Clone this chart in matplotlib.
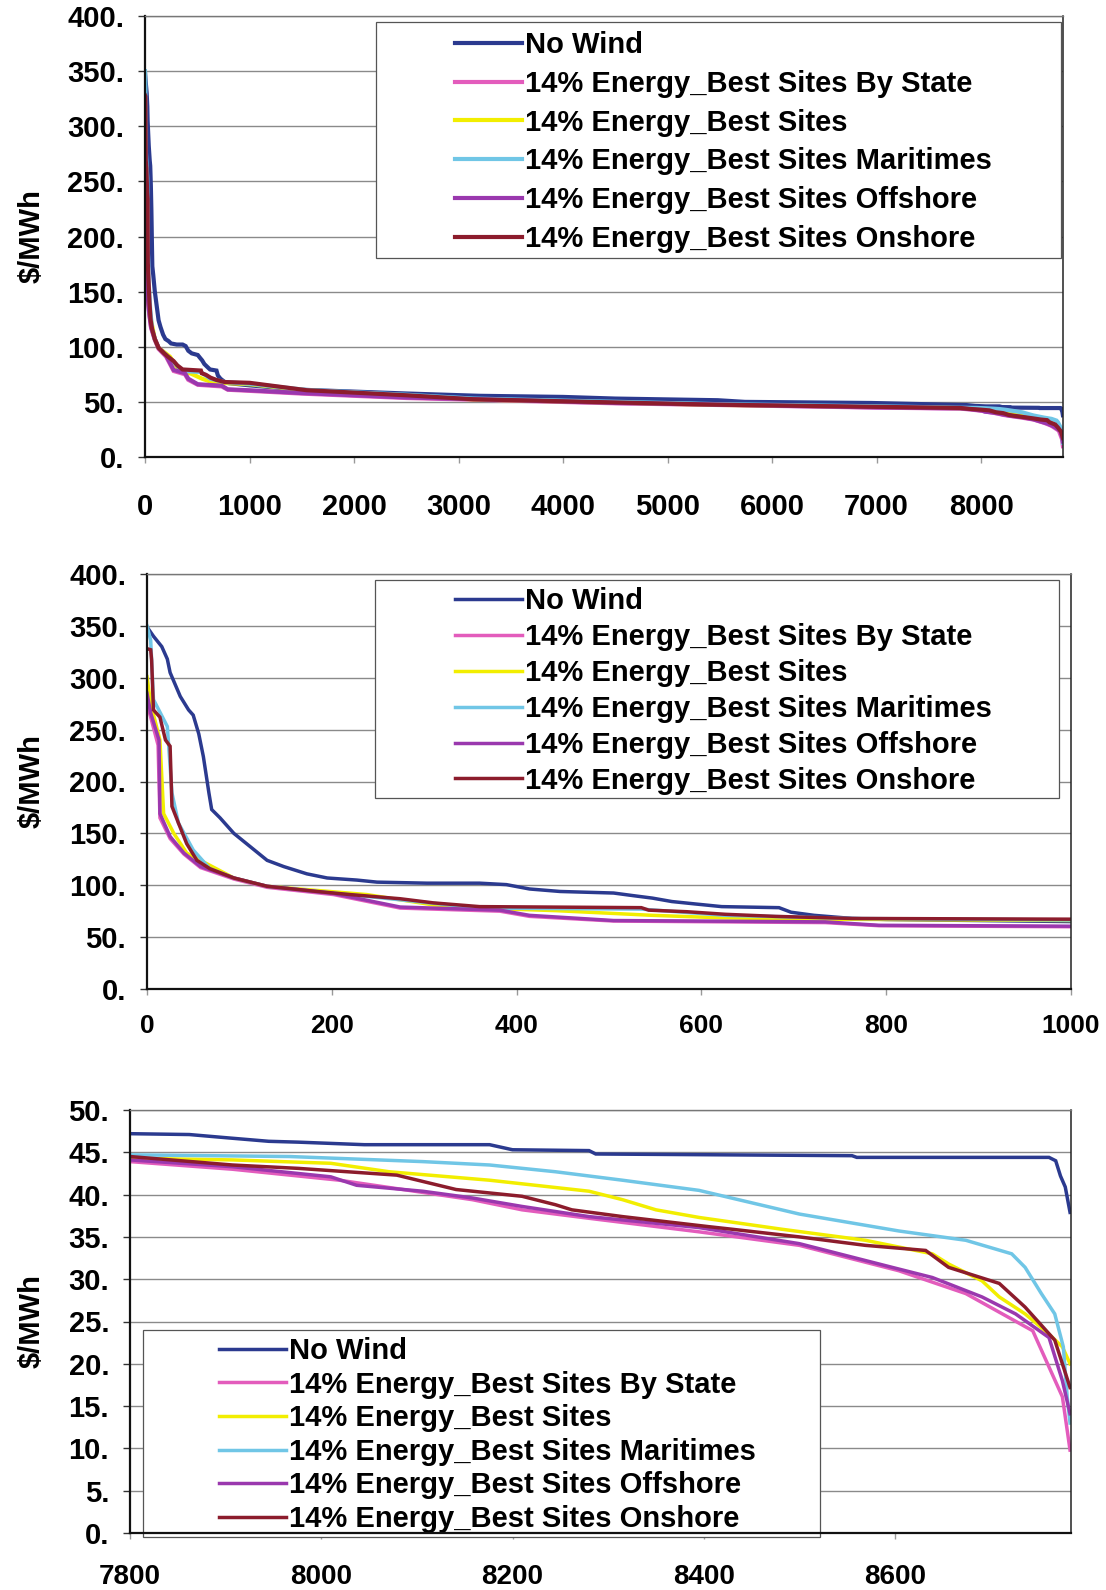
import matplotlib
matplotlib.use("Agg")
import matplotlib.pyplot as plt
from matplotlib.patches import Rectangle
from matplotlib.ticker import FuncFormatter, MultipleLocator

plt.rcParams['font.family'] = ['Liberation Sans', 'DejaVu Sans']
plt.rcParams['font.weight'] = 'bold'

# price duration curves, hour of year (sorted) vs price in $/MWh
labels = ["No Wind",
          "14% Energy_Best Sites By State",
          "14% Energy_Best Sites",
          "14% Energy_Best Sites Maritimes",
          "14% Energy_Best Sites Offshore",
          "14% Energy_Best Sites Onshore"]
colors = ["#2b3a8f", "#e35cbc", "#f2ee00", "#70c6e6", "#9a38ae", "#8c1c2c"]

hours_no_wind = [0, 7, 16, 22, 25, 36, 45, 50, 56, 61, 67, 70, 79, 94, 112, 130, 148, 173, 195,
                 227, 249, 303, 360, 389, 414, 447, 505, 526, 547, 568, 593, 622, 684, 697, 722,
                 763, 800, 1000, 1500, 2500, 3200, 4000, 4500, 5480, 5740, 6950, 7800, 7862,
                 7903, 7945, 7976, 8045, 8176, 8200, 8280, 8287, 8555, 8560, 8761, 8768, 8773,
                 8778, 8783]
price_no_wind = [349, 340, 330, 318, 305, 282, 269, 264, 246, 224, 189, 173, 165, 150, 137, 124,
                 118, 111, 107, 105, 103, 102, 102, 100.6, 96.4, 94, 92.5, 90, 87.6, 84.3, 82,
                 79.4, 78.4, 74, 71, 68, 67, 65, 61, 57.6, 55.5, 54.5, 53, 51.5, 50, 49, 47.2,
                 47.1, 46.7, 46.3, 46.2, 45.9, 45.9, 45.3, 45.2, 44.8, 44.6, 44.4, 44.4, 44,
                 42.2, 40.9, 37.9]

hours_by_state = [0, 4, 12, 14, 25, 40, 58, 94, 130, 202, 274, 382, 414, 505, 734, 792, 1000,
                  1500, 2500, 4500, 7000, 7800, 7907, 8019, 8158, 8210, 8280, 8395, 8500, 8604,
                  8674, 8744, 8775, 8783]
price_by_state = [275, 262, 235, 165, 145, 130, 117, 106, 98, 91, 78, 75, 70, 65.5, 64, 61, 60,
                  57.5, 53.5, 48.7, 44.8, 43.9, 43, 41.7, 39.4, 38.2, 37.2, 35.6, 34, 31, 28.3,
                  23.9, 16.1, 9.8]

hours_best = [0, 4, 14, 18, 29, 43, 94, 130, 238, 310, 360, 443, 547, 622, 700, 1000, 1546,
              2500, 3140, 4540, 5450, 7000, 7800, 7907, 8010, 8071, 8176, 8280, 8315, 8350,
              8395, 8482, 8569, 8639, 8656, 8691, 8709, 8736, 8761, 8775, 8783]
price_best = [301, 275, 240, 169, 150, 131, 107, 99, 91, 81, 78, 75.5, 71, 68.6, 67.5, 66,
              60.5, 55.8, 52.2, 49.2, 47.3, 45.5, 44.3, 44.1, 43.7, 42.7, 41.7, 40.4, 39.4,
              38.2, 37.3, 35.9, 34.6, 33, 31.8, 29.8, 27.9, 25.9, 23.5, 22, 20]

hours_maritimes = [0, 4, 7, 22, 27, 34, 50, 68, 94, 130, 184, 274, 360, 535, 626, 763, 1000,
                   1546, 2500, 3140, 4540, 5450, 7000, 7800, 7967, 8106, 8176, 8245, 8315,
                   8395, 8500, 8604, 8674, 8722, 8736, 8753, 8767, 8776, 8780, 8783]
price_maritimes = [350, 336, 279, 253, 189, 160, 134, 116, 107, 99, 94, 86, 78, 77, 71, 68,
                   66.5, 60.8, 56.5, 53, 50, 48, 46, 44.7, 44.5, 43.9, 43.5, 42.7, 41.7, 40.5,
                   37.7, 35.7, 34.6, 33, 31.4, 28.3, 25.9, 22, 16.1, 13]

hours_offshore = [0, 4, 13, 14, 25, 40, 58, 94, 130, 202, 274, 382, 414, 505, 734, 792, 1000,
                  1500, 2500, 4500, 7000, 7800, 7907, 8010, 8037, 8106, 8158, 8210, 8280, 8395,
                  8500, 8597, 8639, 8691, 8726, 8761, 8775, 8783]
price_offshore = [285, 266, 240, 169, 147, 131, 118, 107, 99, 92, 79, 76, 71, 66, 64.7, 61.4,
                  60.5, 58, 54, 49, 45, 44.1, 43.3, 42.1, 41.1, 40.4, 39.6, 38.6, 37.4, 36.1,
                  34.2, 31.4, 30.2, 27.9, 25.9, 23.1, 18, 14.1]

hours_onshore = [0, 4, 5, 7, 14, 20, 25, 27, 34, 43, 54, 68, 94, 130, 184, 220, 274, 310, 360,
                 535, 543, 584, 626, 680, 763, 1000, 1546, 2500, 3140, 4540, 5450, 7000, 7800,
                 7907, 7976, 8079, 8141, 8210, 8245, 8262, 8315, 8406, 8430, 8500, 8569, 8632,
                 8656, 8709, 8736, 8767, 8783]
price_onshore = [328, 327, 317, 269, 262, 240, 234, 176, 160, 140, 124, 116, 107, 99, 94, 91,
                 87, 83, 79.4, 78.4, 76, 74.5, 72, 70, 68, 67.3, 60.6, 56, 52.4, 49.4, 47.5,
                 45.5, 44.5, 43.5, 43.1, 42.3, 40.6, 39.8, 38.8, 38.2, 37.4, 36.2, 35.9, 35,
                 34, 33.4, 31.4, 29.5, 26.7, 22.8, 17.2]

series = [(hours_no_wind, price_no_wind), (hours_by_state, price_by_state),
          (hours_best, price_best), (hours_maritimes, price_maritimes),
          (hours_offshore, price_offshore), (hours_onshore, price_onshore)]

W, H = 1106, 1590
fig = plt.figure(figsize=(W / 100, H / 100), dpi=100)


def add_panel(box, xlim, xstep, ylim, ystep, lw, xfs, xpad):
    left, top, right, bottom = box
    ax = fig.add_axes([left / W, 1 - bottom / H, (right - left) / W, (bottom - top) / H])
    lines = []
    for (hrs, prc), c in zip(series, colors):
        ln, = ax.plot(hrs, prc, color=c, lw=lw, solid_joinstyle='miter', zorder=2)
        lines.append(ln)
    ax.set_xlim(*xlim)
    ax.set_ylim(*ylim)
    ax.xaxis.set_major_locator(MultipleLocator(xstep))
    ax.yaxis.set_major_locator(MultipleLocator(ystep))
    ax.yaxis.set_major_formatter(FuncFormatter(lambda v, p: f"{v:.0f}."))
    ax.yaxis.grid(True, color='#8a8a8a', lw=1.0)
    ax.set_axisbelow(True)
    ax.tick_params(axis='y', labelsize=21, length=5, width=1, pad=10, color='#333333')
    ax.tick_params(axis='x', labelsize=xfs, length=4, width=1, pad=xpad, color='#999999')
    for t in ax.get_xticklabels() + ax.get_yticklabels():
        t.set_fontweight('bold')
    for side in ('left', 'bottom'):
        ax.spines[side].set_color('#111111')
        ax.spines[side].set_linewidth(1.6)
    ax.spines['top'].set_color('#777777')
    ax.spines['top'].set_linewidth(1.0)
    ax.spines['right'].set_color('#222222')
    ax.spines['right'].set_linewidth(1.1)
    for s in ax.spines.values():
        s.set_zorder(6)
    ax.set_ylabel("$/MWh", fontsize=21, fontweight='bold')
    ax.yaxis.set_label_coords(-(left - 46) / (right - left), 0.5)
    return ax, lines


def add_legend(ax, lines, box, handle_x, mid_y, spacing):
    x0, y0, x1, y1 = box
    ax.add_patch(Rectangle((x0 / W, 1 - y1 / H), (x1 - x0) / W, (y1 - y0) / H,
                           transform=fig.transFigure, facecolor='white',
                           edgecolor='#555555', lw=0.9, zorder=4, clip_on=False))
    ax.legend(lines, labels, loc='center left',
              bbox_to_anchor=(handle_x / W, 1 - mid_y / H),
              bbox_transform=fig.transFigure, frameon=False, borderpad=0,
              handlelength=2.3, handletextpad=0.12, labelspacing=spacing,
              prop={'size': 21, 'weight': 'bold'})


ax1, l1 = add_panel((145, 16, 1063, 457), (0, 8784), 1000, (0, 400), 50, 3.0, 21, 22)
add_legend(ax1, l1, (376, 22, 1061, 258), 440, 142, 0.37)

ax2, l2 = add_panel((147, 574, 1071, 989), (0, 1000), 200, (0, 400), 50, 2.5, 19, 14)
add_legend(ax2, l2, (375, 580, 1059, 798), 440, 691, 0.27)

ax3, l3 = add_panel((130, 1110, 1071, 1533), (7800, 8784), 200, (0, 50), 5, 2.5, 20, 18)
add_legend(ax3, l3, (143, 1330, 820, 1537), 204, 1435, 0.19)

fig.savefig("out.png", dpi=100)
